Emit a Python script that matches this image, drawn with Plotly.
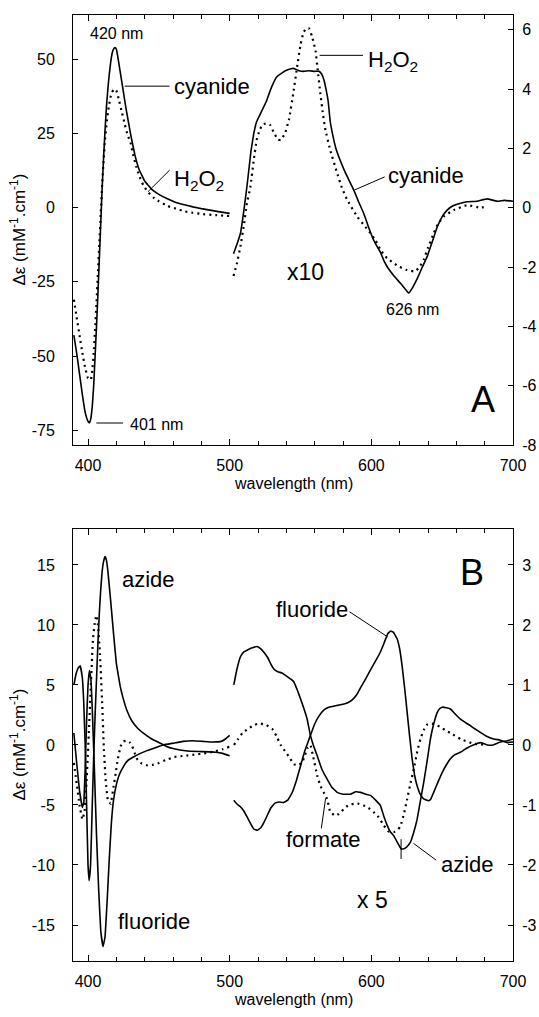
import plotly.graph_objects as go

FONT = "Liberation Sans, Arial, sans-serif"

# ---------------- Panel A, Soret region (left axis, mM-1.cm-1) ----------------
A_CN_SORET_NM = [390, 392, 394, 396, 398, 400, 401, 402, 403, 404, 405, 406, 407, 408, 409, 410,
                 411, 412, 413, 414, 415, 416, 417, 418, 419, 420, 421, 422, 423, 425, 427, 430,
                 433, 436, 440, 445, 450, 456, 462, 468, 474, 480, 486, 492, 500]
A_CN_SORET = [-43, -49, -56, -63, -69, -72, -72.5, -71, -67, -60, -50, -40, -29, -17, -5, 7,
              17, 26, 34, 40, 45, 49, 52, 53.5, 54, 53.5, 51, 48, 45, 39, 33, 25,
              18, 13, 9, 6.2, 4.5, 3, 1.8, 1, 0.3, -0.3, -0.8, -1.3, -1.9]

A_H2O2_SORET_NM = [390, 392, 394, 396, 398, 400, 402, 403, 404, 405, 406, 407, 408, 409, 410,
                   411, 412, 413, 414, 415, 416, 417, 418, 419, 420, 421, 422, 424, 426, 428,
                   430, 432, 434, 436, 439, 442, 446, 450, 456, 462, 468, 474, 480, 490, 500]
A_H2O2_SORET = [-31, -37, -43, -49, -54, -57.5, -58, -55, -49, -41, -32, -22, -12, -2, 8,
                16, 23, 28, 32, 35, 37.5, 39, 39.8, 40, 39.5, 38, 36, 32, 28, 24.5,
                22, 17.5, 14, 11, 7.6, 5.5, 3.5, 2.2, 0.6, -0.3, -1.2, -1.7, -2.1, -2.5, -2.8]

# ---------------- Panel A, visible region (right axis, x10) ----------------
A_CN_VIS_NM = [502.7, 505, 507.6, 510, 512.4, 515, 517, 519, 522, 526, 529, 533, 537, 541, 545,
               549, 552, 556, 560, 563, 565, 566.6, 568, 569.5, 571, 573, 575, 578, 581, 584,
               587.6, 591, 594.7, 598, 601.7, 604, 606.4, 609, 612, 616, 620.6, 624, 626.4,
               629, 632.3, 636, 639.4, 643, 646.5, 650, 653.5, 657, 660.6, 667.6, 674.7,
               681.7, 688.8, 694, 700]
A_CN_VIS = [-1.55, -1.25, -0.86, -0.1, 0.8, 1.9, 2.5, 2.9, 3.2, 3.6, 4.0, 4.4, 4.55, 4.65, 4.7,
            4.62, 4.6, 4.62, 4.6, 4.6, 4.5, 4.3, 4.0, 3.6, 2.9, 2.4, 2.0, 1.6, 1.25, 0.95,
            0.6, 0.2, -0.2, -0.65, -1.1, -1.3, -1.5, -1.8, -2.05, -2.3, -2.55, -2.75, -2.88,
            -2.7, -2.4, -2.0, -1.65, -1.15, -0.65, -0.3, -0.08, 0.05, 0.12, 0.2, 0.22,
            0.3, 0.22, 0.25, 0.22]

A_H2O2_VIS_NM = [502.7, 505, 507.6, 510, 512, 514.6, 517, 519, 521, 523, 526, 528.7, 531, 534,
                 536, 539, 542, 545, 547.6, 550, 552, 554, 556, 558, 560.6, 562, 564, 566,
                 567.6, 571, 575.9, 579, 583, 590, 595, 599.4, 603, 606.4, 611, 615.8, 620,
                 625.3, 628, 631, 634, 636.9, 640, 644, 647, 651, 658, 667.6, 677, 682]
A_H2O2_VIS = [-2.3, -1.9, -1.3, -0.6, 0.1, 0.7, 1.6, 2.28, 2.6, 2.8, 2.85, 2.78, 2.55, 2.3,
              2.28, 2.5, 3.0, 3.9, 4.75, 5.5, 5.9, 6.05, 6.05, 5.8, 5.3, 4.7, 3.85, 3.1,
              2.62, 1.94, 1.16, 0.7, 0.26, -0.3, -0.6, -0.86, -1.1, -1.42, -1.7, -1.87, -2.0,
              -2.1, -2.13, -2.15, -2.0, -1.76, -1.35, -0.86, -0.55, -0.3, -0.08, 0.09, 0.0, 0.05]

# ---------------- Panel B, Soret region (left axis) ----------------
B_AZ_SORET_NM = [390, 391.5, 393, 394.5, 396, 397, 398, 399, 400, 400.8, 401.8, 403, 404, 405,
                 406, 407, 408, 409, 410, 411, 412, 413, 414, 416, 418, 420, 422.7, 425, 427.4,
                 431, 435, 440, 445, 450, 455, 460, 470, 480, 490, 495, 500]
B_AZ_SORET = [5.0, 5.9, 6.4, 6.6, 5.6, 3.5, 0, -5, -10, -11.3, -10, -5, -1, 2.5,
              5.5, 8.5, 11, 13, 14.5, 15.3, 15.7, 15.4, 14.5, 12, 9.3, 6.8, 4.9, 3.8, 2.9,
              2.0, 1.4, 0.9, 0.5, 0.2, -0.1, -0.3, -0.5, -0.55, -0.6, -0.7, -0.9]

B_FL_SORET_NM = [390, 392, 394, 396, 397, 398, 399, 400, 401, 402, 403, 404.5, 406, 407.5, 409,
                 410.6, 412, 413.5, 415, 416.5, 418, 420, 422, 425, 428, 432, 437, 442, 447,
                 453, 460, 467, 474, 481, 488, 494, 497, 500]
B_FL_SORET = [1, -1.5, -3.8, -5.2, -4.8, -2, 2, 5, 6.2, 5.5, 3, -2, -7.5, -12, -15.5,
              -16.8, -16, -13, -9.5, -6.5, -4.6, -3.3, -2.5, -1.8, -1.3, -1.0, -0.7, -0.45, -0.25,
              0, 0.15, 0.3, 0.35, 0.3, 0.25, 0.3, 0.5, 0.8]

B_FO_SORET_NM = [390, 392, 394, 396, 397.5, 399, 400.5, 402, 403.5, 405, 406, 407, 408.3, 410,
                 411.2, 412.5, 414, 416, 418, 419.5, 421, 423, 425, 427.7, 429.5, 431.2, 433,
                 435, 438, 442, 446, 450, 455, 461, 468, 475, 482, 489, 495, 500]
B_FO_SORET = [-1.5, -3.2, -5, -6.2, -5.6, -3, 0.8, 5, 8.8, 10.4, 10.8, 10, 7.9, 3.5,
              -0.4, -3, -4.6, -4.9, -3.5, -2.4, -1.2, -0.1, 0.3, 0.36, 0.2, -0.1, -0.7,
              -1.25, -1.55, -1.7, -1.65, -1.5, -1.25, -1.0, -0.9, -0.8, -0.7, -0.55, -0.35, -0.15]

# ---------------- Panel B, visible region (right axis, x5) ----------------
B_AZ_VIS_NM = [502.9, 505, 507.6, 510, 512.3, 516, 519.4, 522, 524, 527, 529, 531, 534, 537, 540,
               543, 545.3, 548, 550, 552.5, 554.7, 557, 559, 561.8, 565, 568.8, 572, 575.9, 580,
               585.3, 589, 592.3, 596, 599.4, 603, 606.4, 609, 611.2, 613.5, 615.8, 619, 621,
               623, 625, 627.6, 630, 632.3, 634.5, 637, 639.5, 641.7, 644, 646.5, 648, 650,
               653, 655.8, 659, 662.9, 666, 670, 673, 677, 681, 686.4, 691, 695.9, 700]
B_AZ_VIS = [1.0, 1.25, 1.47, 1.55, 1.58, 1.62, 1.64, 1.6, 1.55, 1.45, 1.35, 1.27, 1.22, 1.2, 1.15,
            1.1, 1.05, 0.9, 0.77, 0.6, 0.43, 0.16, 0.0, -0.18, -0.4, -0.57, -0.7, -0.79, -0.82,
            -0.82, -0.78, -0.79, -0.82, -0.84, -0.92, -1.01, -1.2, -1.34, -1.45, -1.51, -1.65, -1.73,
            -1.73, -1.7, -1.62, -1.45, -1.24, -0.95, -0.62, -0.25, 0.1, 0.35, 0.54, 0.6, 0.63,
            0.62, 0.6, 0.52, 0.43, 0.38, 0.32, 0.27, 0.21, 0.15, 0.1, 0.08, 0.04, 0.05]

B_FL_VIS_NM = [502.9, 505, 507.6, 510, 512.3, 515, 517, 519.4, 522, 524, 527, 529, 532, 535, 538,
               541, 544, 547, 550, 553, 557, 560, 563, 566.4, 570, 575.9, 580, 583, 586.5, 590,
               592.3, 596, 599.4, 603, 606.4, 609, 611.5, 613.5, 615.5, 618.2, 620, 621.7, 623.5,
               625.3, 627, 628.8, 630.5, 632.3, 634.5, 637, 640.5, 642, 644, 647, 650, 653,
               655.8, 659, 662.9, 667.6, 672, 677, 682, 686, 691, 696, 700]
B_FL_VIS = [-0.92, -0.98, -1.03, -1.1, -1.2, -1.32, -1.4, -1.42, -1.38, -1.3, -1.15, -1.05, -0.97,
            -0.95, -0.96, -0.92, -0.8, -0.6, -0.35, -0.1, 0.16, 0.35, 0.48, 0.58, 0.63, 0.66, 0.68,
            0.7, 0.75, 0.85, 0.95, 1.1, 1.25, 1.4, 1.55, 1.7, 1.85, 1.9, 1.88, 1.77, 1.6, 1.32,
            0.95, 0.54, 0.15, -0.23, -0.5, -0.68, -0.82, -0.9, -0.93, -0.9, -0.79, -0.62, -0.46,
            -0.33, -0.23, -0.16, -0.12, -0.05, 0.0, 0.04, 0.0, 0.0, 0.05, 0.07, 0.1]

B_FO_VIS_NM = [503, 506, 509, 513, 517, 521, 526, 530, 533, 536, 539, 542, 545.3, 548, 551, 553,
               555, 557, 559, 561.8, 564, 566.4, 568.8, 571, 574.6, 577, 580.5, 584, 587.6, 591,
               594.7, 598, 601.7, 605, 608.8, 612, 615.8, 618.5, 620.6, 623, 625.3, 628, 630,
               632.5, 634.7, 637, 639.4, 642, 644, 648.8, 652, 655.8, 662.9, 672.3, 681.7]
B_FO_VIS = [0.0, 0.1, 0.2, 0.27, 0.33, 0.36, 0.33, 0.27, 0.15, 0.0, -0.1, -0.2, -0.32, -0.34, -0.3,
            -0.18, -0.05, 0.0, -0.2, -0.51, -0.68, -0.79, -0.9, -1.12, -1.18, -1.15, -1.07, -1.0,
            -0.98, -0.98, -1.01, -1.05, -1.12, -1.2, -1.34, -1.44, -1.45, -1.42, -1.35, -1.15, -0.9,
            -0.6, -0.4, -0.1, 0.1, 0.25, 0.34, 0.36, 0.35, 0.3, 0.25, 0.2, 0.1, 0.02, 0.0]

# ---------------- Axis ticks ----------------
X_TICKS = [400, 500, 600, 700]
A_LEFT_TICKS = [-75, -50, -25, 0, 25, 50]
A_RIGHT_TICKS = [-8, -6, -4, -2, 0, 2, 4, 6]
B_LEFT_TICKS = [-15, -10, -5, 0, 5, 10, 15]
B_RIGHT_TICKS = [-3, -2, -1, 0, 1, 2, 3]


def lab(vals):
    return [str(v) for v in vals]


SOLID = dict(color="black", width=1.6)
DOTTED = dict(color="black", width=2.2, dash="2px,4px")

fig = go.Figure()
series = [
    (A_CN_SORET_NM, A_CN_SORET, "x", "y", SOLID),
    (A_H2O2_SORET_NM, A_H2O2_SORET, "x", "y", DOTTED),
    (A_CN_VIS_NM, A_CN_VIS, "x", "y2", SOLID),
    (A_H2O2_VIS_NM, A_H2O2_VIS, "x", "y2", DOTTED),
    (B_AZ_SORET_NM, B_AZ_SORET, "x2", "y3", SOLID),
    (B_FL_SORET_NM, B_FL_SORET, "x2", "y3", SOLID),
    (B_FO_SORET_NM, B_FO_SORET, "x2", "y3", DOTTED),
    (B_AZ_VIS_NM, B_AZ_VIS, "x2", "y4", SOLID),
    (B_FL_VIS_NM, B_FL_VIS, "x2", "y4", SOLID),
    (B_FO_VIS_NM, B_FO_VIS, "x2", "y4", DOTTED),
]
for xs, ys, xa, ya, ln in series:
    fig.add_trace(go.Scatter(x=xs, y=ys, xaxis=xa, yaxis=ya, mode="lines",
                             line=dict(shape="spline", smoothing=0.25, **ln),
                             showlegend=False, hoverinfo="skip"))

XR = [389.4, 700]
tickfont = dict(family=FONT, size=16, color="black")
xcommon = dict(range=XR, tickvals=X_TICKS, ticktext=lab(X_TICKS), ticks="inside", ticklen=6,
               tickwidth=1, tickcolor="black", showline=True, linecolor="black", linewidth=1,
               mirror="ticks", showgrid=False, zeroline=False, tickfont=tickfont,
               ticklabelstandoff=6, automargin=False,
               minor=dict(dtick=20, ticks="inside", ticklen=4, tickcolor="black", tickwidth=1,
                          showgrid=False))
ycommon = dict(ticks="inside", ticklen=5, tickwidth=1, tickcolor="black", showline=True,
               linecolor="black", linewidth=1, showgrid=False, zeroline=False, tickfont=tickfont,
               automargin=False)

DOM_A = [0.5455, 1.0]
DOM_B = [0.0, 0.4567]

fig.update_layout(
    width=539, height=1017,
    margin=dict(l=73, r=26, t=15, b=56, autoexpand=False),
    paper_bgcolor="white", plot_bgcolor="white",
    font=dict(family=FONT, color="black"),
    xaxis=dict(anchor="y", domain=[0, 1], **xcommon),
    xaxis2=dict(anchor="y3", domain=[0, 1], **xcommon),
    yaxis=dict(domain=DOM_A, anchor="x", range=[-80, 65], tickvals=A_LEFT_TICKS,
               ticktext=lab(A_LEFT_TICKS), ticklabelstandoff=14, **ycommon),
    yaxis2=dict(overlaying="y", anchor="x", side="right", range=[-8, 6.5],
                tickvals=A_RIGHT_TICKS, ticktext=lab(A_RIGHT_TICKS), ticklabelstandoff=5,
                **ycommon),
    yaxis3=dict(domain=DOM_B, anchor="x2", range=[-18, 18], tickvals=B_LEFT_TICKS,
                ticktext=lab(B_LEFT_TICKS), ticklabelstandoff=14, **ycommon),
    yaxis4=dict(overlaying="y3", anchor="x2", side="right", range=[-3.6, 3.6],
                tickvals=B_RIGHT_TICKS, ticktext=lab(B_RIGHT_TICKS), ticklabelstandoff=5,
                **ycommon),
)

ann = []


def text(x, y, s, xref, yref, size=22, xanchor="left", yanchor="middle"):
    ann.append(dict(x=x, y=y, text=s, xref=xref, yref=yref, showarrow=False,
                    xanchor=xanchor, yanchor=yanchor,
                    font=dict(family=FONT, size=size, color="black")))


def leader(x0, y0, x1, y1, xref, yref):
    fig.add_shape(type="line", x0=x0, y0=y0, x1=x1, y1=y1, xref=xref, yref=yref,
                  line=dict(color="black", width=1))


# Panel A annotations
text(420.0, 58.8, "420 nm", "x", "y", size=16, xanchor="center")
leader(425.9, 41, 457.6, 41, "x", "y")
text(459.0, 41, "cyanide", "x", "y")
leader(442.3, 5.4, 457.6, 12.7, "x", "y")
text(459.0, 9.5, "H<sub>2</sub>O<sub>2</sub>", "x", "y")
leader(405.9, -72.6, 424.7, -72.6, "x", "y")
text(428.0, -73.2, "401 nm", "x", "y", size=16)
leader(563.5, 5.14, 594.1, 5.14, "x", "y2")
text(596.4, 4.95, "H<sub>2</sub>O<sub>2</sub>", "x", "y2")
leader(588.2, 0.6, 609.4, 1.04, "x", "y2")
text(610.5, 1.1, "cyanide", "x", "y2")
text(553.6, -2.17, "x10", "x", "y2", size=23, xanchor="center")
text(629.1, -3.44, "626 nm", "x", "y2", size=16, xanchor="center")
text(678.6, -6.47, "A", "x", "y2", size=36, xanchor="center")

# Panel B annotations
text(422.4, 13.75, "azide", "x2", "y3")
text(420.0, -14.7, "fluoride", "x2", "y3")
text(671.4, 2.87, "B", "x2", "y4", size=36, xanchor="center")
text(584.6, 2.25, "fluoride", "x2", "y4", xanchor="right")
leader(584.6, 2.22, 611.6, 1.8, "x2", "y4")
text(566.3, -1.58, "formate", "x2", "y4", xanchor="center")
leader(564.7, -1.39, 567.7, -0.89, "x2", "y4")
text(648.1, -2.0, "azide", "x2", "y4")
leader(629.8, -1.64, 645.8, -1.92, "x2", "y4")
leader(621, -1.57, 621, -1.9, "x2", "y4")
text(600.5, -2.58, "x 5", "x2", "y4", size=23, xanchor="center")

# Axis titles
YT = "\u0394\u03b5 (mM<sup>-1</sup>.cm<sup>-1</sup>)"
for dom in (DOM_A, DOM_B):
    ann.append(dict(x=-0.126, y=(dom[0] + dom[1]) / 2, xref="paper", yref="paper", text=YT,
                    textangle=-90, showarrow=False, xanchor="center", yanchor="middle",
                    font=dict(family=FONT, size=17, color="black")))
    ann.append(dict(x=0.5, y=dom[0] - 0.041, xref="paper", yref="paper", text="wavelength (nm)",
                    showarrow=False, yanchor="middle",
                    font=dict(family=FONT, size=16, color="black")))

fig.update_layout(annotations=ann)
fig.write_html("out.html", config={"displayModeBar": False},
               post_script="document.body.style.margin='0';document.body.style.padding='0';"
                           "document.body.style.overflow='hidden';")
